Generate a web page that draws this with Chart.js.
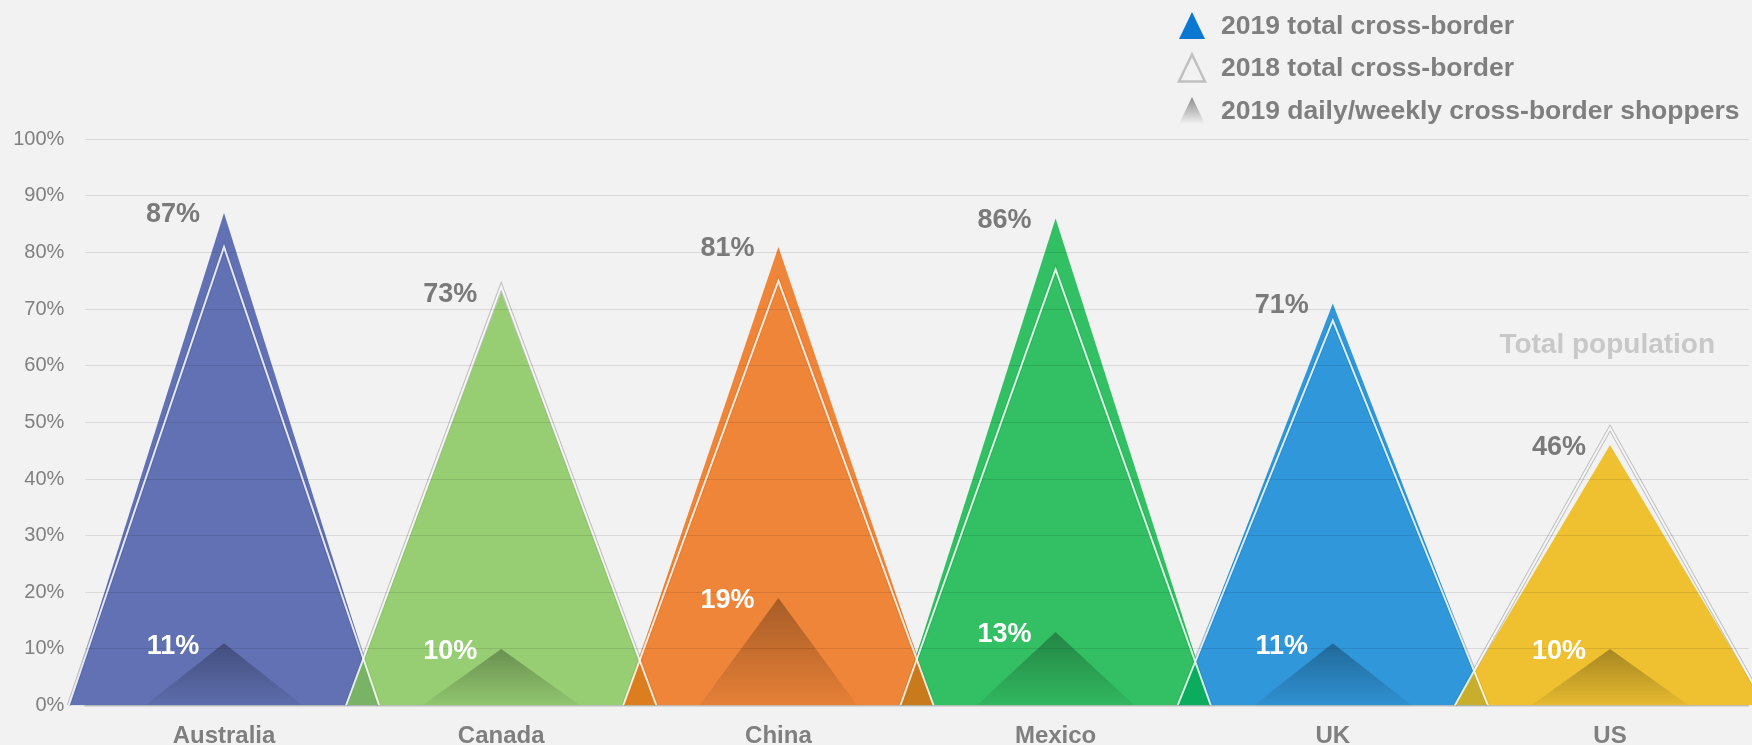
<!DOCTYPE html>
<html>
<head>
<meta charset="utf-8">
<script src="https://cdn.jsdelivr.net/npm/chart.js@4.4.1/dist/chart.umd.min.js"></script>
<style>
  html, body { margin: 0; padding: 0; background: #f2f2f2; }
  #wrap { width: 1752px; height: 745px; position: relative; overflow: hidden; }
  canvas { display: block; }
</style>
</head>
<body>
<div id="wrap"><canvas id="c" width="1752" height="745"></canvas></div>
<script>
// ---------------- data ----------------
const categories = ['Australia', 'Canada', 'China', 'Mexico', 'UK', 'US'];
const total2019 = [87, 73, 81, 86, 71, 46];
const total2018 = [81, 74, 75, 77, 68, 49];
const daily2019 = [11, 10, 19, 13, 11, 10];
const yTickValues = [0, 10, 20, 30, 40, 50, 60, 70, 80, 90, 100];
const legendLabels = ['2019 total cross-border', '2018 total cross-border', '2019 daily/weekly cross-border shoppers'];
const noteText = 'Total population';

// ---------------- styles ----------------
const countryColors = [
  'rgba(60,80,162,0.8)',   // Australia
  'rgba(128,196,82,0.8)',  // Canada
  'rgba(238,105,10,0.8)',  // China
  'rgba(3,178,62,0.8)',    // Mexico
  'rgba(0,128,212,0.8)',   // UK
  'rgba(238,180,0,0.8)'    // US
];
// lower order = drawn on top
const fillOrder = [7, 6, 2, 3, 5, 4];
const BIG_HW = 0.56;
const SMALL_HW = 0.285;
const FONT = "'Liberation Sans', Arial, sans-serif";

function tri(i, v, hw) {
  return [{x: i - hw, y: 0}, {x: i, y: v}, {x: i + hw, y: 0}];
}

const datasets = [];
// 2018 grey shadow outline (bottom)
categories.forEach((c, i) => {
  datasets.push({
    label: '2018 shadow ' + c, data: tri(i, total2018[i], BIG_HW),
    fill: false, borderColor: 'rgba(150,150,150,0.55)', borderWidth: 4,
    borderJoinStyle: 'miter', pointRadius: 0, tension: 0, clip: false, order: 8
  });
});
// 2019 total (big triangles)
categories.forEach((c, i) => {
  datasets.push({
    label: '2019 total ' + c, data: tri(i, total2019[i], BIG_HW),
    fill: 'origin', backgroundColor: countryColors[i], borderColor: 'rgba(0,0,0,0)', borderWidth: 0,
    pointRadius: 0, tension: 0, clip: false, order: fillOrder[i]
  });
});
// 2019 daily/weekly (small gradient triangles)
categories.forEach((c, i) => {
  datasets.push({
    label: '2019 daily ' + c, data: tri(i, daily2019[i], SMALL_HW),
    fill: 'origin',
    backgroundColor: (ctx) => {
      const ch = ctx.chart;
      if (!ch.chartArea || !ch.scales.y) return 'rgba(0,0,0,0.15)';
      const ys = ch.scales.y;
      const g = ch.ctx.createLinearGradient(0, ys.getPixelForValue(daily2019[i]), 0, ys.getPixelForValue(0));
      g.addColorStop(0, 'rgba(0,0,0,0.30)');
      g.addColorStop(1, 'rgba(0,0,0,0.04)');
      return g;
    },
    borderColor: 'rgba(0,0,0,0)', borderWidth: 0,
    pointRadius: 0, tension: 0, clip: false, order: 1
  });
});
// 2018 white outline (top)
categories.forEach((c, i) => {
  datasets.push({
    label: '2018 total ' + c, data: tri(i, total2018[i], BIG_HW),
    fill: false, borderColor: 'rgba(255,255,255,0.85)', borderWidth: 2,
    borderJoinStyle: 'miter', pointRadius: 0, tension: 0, clip: false, order: 0
  });
});

// allow fills to extend beyond chart area horizontally
const expandArea = {
  id: 'expandArea',
  beforeDatasetsDraw(chart) {
    chart.$savedArea = chart.chartArea;
    const a = chart.chartArea;
    chart.chartArea = {left: 0, right: chart.width, top: a.top - 20, bottom: a.bottom, width: chart.width, height: a.bottom - a.top + 20};
  },
  afterDatasetsDraw(chart) {
    if (chart.$savedArea) chart.chartArea = chart.$savedArea;
  }
};

const labelsAndLegend = {
  id: 'labelsAndLegend',
  afterDraw(chart) {
    const ctx = chart.ctx;
    const xs = chart.scales.x, ys = chart.scales.y;
    ctx.save();
    ctx.textAlign = 'center';
    ctx.textBaseline = 'middle';
    categories.forEach((c, i) => {
      const px = xs.getPixelForValue(i) - 51;
      ctx.font = 'bold 27px ' + FONT;
      ctx.fillStyle = '#7a7a7a';
      ctx.fillText(total2019[i] + '%', px, ys.getPixelForValue(total2019[i]) + 2);
      ctx.fillStyle = '#ffffff';
      ctx.fillText(daily2019[i] + '%', px, ys.getPixelForValue(daily2019[i]) + 3);
    });
    // note
    ctx.font = 'bold 28px ' + FONT;
    ctx.fillStyle = '#c8c8c8';
    ctx.fillText(noteText, xs.getPixelForValue(4.99), ys.getPixelForValue(63.7));

    // legend
    const rows = [25.5, 68, 110.5];
    const icx = 1192, hw = 13, hh = 13.5;
    rows.forEach((ry, k) => {
      ctx.beginPath();
      ctx.moveTo(icx, ry - hh);
      ctx.lineTo(icx + hw, ry + hh);
      ctx.lineTo(icx - hw, ry + hh);
      ctx.closePath();
      if (k === 0) {
        ctx.fillStyle = '#0a78d2';
        ctx.fill();
      } else if (k === 1) {
        ctx.strokeStyle = '#c0c0c0';
        ctx.lineWidth = 2.5;
        ctx.stroke();
      } else {
        const g = ctx.createLinearGradient(0, ry - hh, 0, ry + hh);
        g.addColorStop(0, '#8a8a8a');
        g.addColorStop(1, '#f2f2f2');
        ctx.fillStyle = g;
        ctx.fill();
      }
      ctx.textAlign = 'left';
      ctx.font = 'bold 26.5px ' + FONT;
      ctx.fillStyle = '#7f7f7f';
      ctx.fillText(legendLabels[k], 1221, ry + 1);
    });
    ctx.restore();
  }
};

Chart.defaults.font.family = FONT;

new Chart(document.getElementById('c'), {
  type: 'line',
  data: { datasets },
  options: {
    responsive: false,
    animation: false,
    devicePixelRatio: 1,
    layout: { padding: { top: 139.3, right: 3.4, bottom: 0, left: 0 } },
    plugins: { legend: { display: false }, tooltip: { enabled: false } },
    events: [],
    scales: {
      x: {
        type: 'linear', min: -0.5, max: 5.5,
        afterBuildTicks: (s) => { s.ticks = categories.map((c, i) => ({ value: i })); },
        afterFit: (s) => { s.height = 39.5; },
        ticks: {
          callback: (v) => categories[Math.round(v)] || '',
          font: { size: 24, weight: 'bold' }, color: '#7f7f7f', padding: 16, maxRotation: 0, autoSkip: false
        },
        grid: { display: false, drawTicks: false },
        border: { display: true, color: '#d9d9d9', width: 2 }
      },
      y: {
        type: 'linear', min: 0, max: 100,
        afterBuildTicks: (s) => { s.ticks = yTickValues.map(v => ({ value: v })); },
        afterFit: (s) => { s.width = 85.4; },
        ticks: {
          callback: (v) => v + '%',
          font: { size: 20 }, color: '#808080', padding: 21
        },
        grid: { color: 'rgba(0,0,0,0.1)', lineWidth: 1, z: 1, drawTicks: false },
        border: { display: false }
      }
    }
  },
  plugins: [expandArea, labelsAndLegend]
});
</script>
</body>
</html>
